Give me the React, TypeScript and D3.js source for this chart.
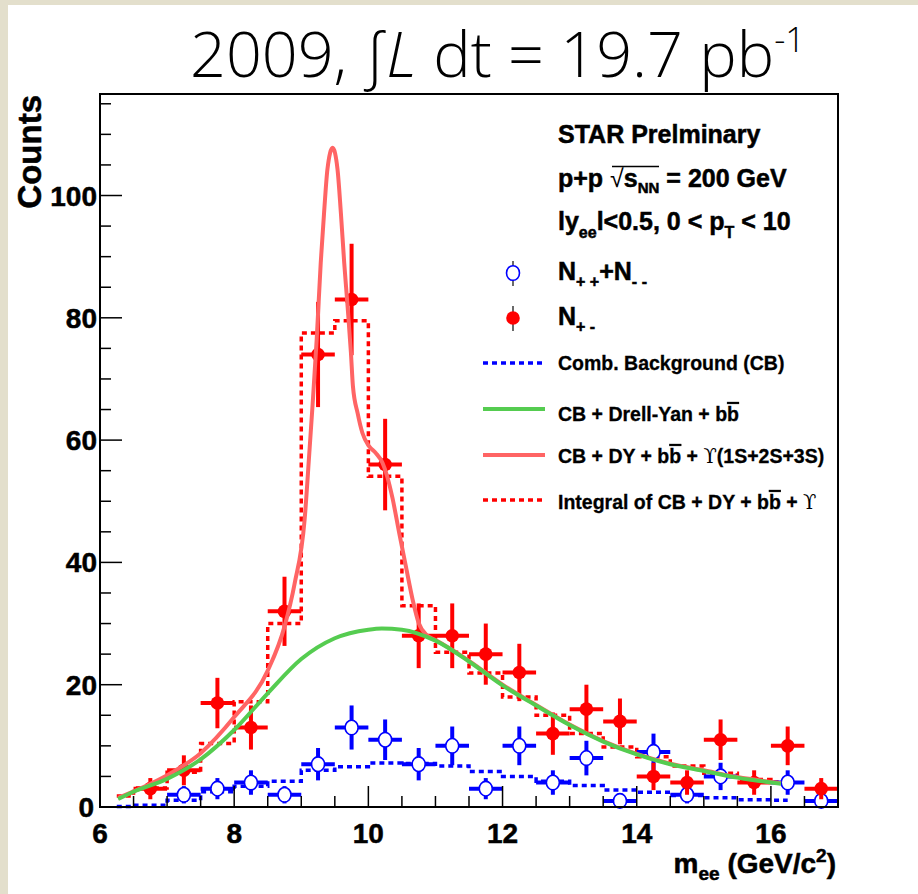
import React from "react";
import * as d3 from "d3";

// ---- data ----------------------------------------------------------------
// Bin centres of the invariant-mass histogram (GeV/c^2), bin width 0.5
const binCenters = [
  6.75, 7.25, 7.75, 8.25, 8.75, 9.25, 9.75, 10.25, 10.75, 11.25, 11.75,
  12.25, 12.75, 13.25, 13.75, 14.25, 14.75, 15.25, 15.75, 16.25, 16.75,
];
// Unlike-sign pairs N+-
const unlikeSign = [3, 6, 17, 13, 32, 74, 83, 56, 28, 28, 25, 22, 12, 16, 14, 5, 4, 11, 4, 10, 3];
// Like-sign pairs N++ + N-- (null = empty bin)
const likeSign = [null, 2, 3, 4, 2, 7, 13, 11, 7, 10, 3, 10, 4, 8, 1, 9, 2, 5, null, 4, 1];

// Step histograms: edges and contents
const stepEdges = [
  6.25, 6.5, 7.0, 7.5, 8.0, 8.5, 9.0, 9.5, 10.0, 10.5, 11.0, 11.5, 12.0,
  12.5, 13.0, 13.5, 14.0, 14.5, 15.0, 15.5, 16.0, 16.25,
];
const combBackground = [
  0.1, 0.3, 1.1, 2.5, 3.4, 4.2, 6.0, 6.6, 7.2, 7.1, 6.7, 5.8, 5.0, 4.2, 3.5,
  2.8, 2.4, 1.9, 1.5, 1.2, 1.1,
];
const integralAll = [
  1.8, 3.1, 5.7, 10.4, 17.2, 30.0, 77.5, 79.5, 54.1, 32.9, 25.3, 21.9, 18.0,
  15.0, 12.0, 9.8, 8.2, 6.7, 5.5, 4.5, 4.1,
];

// CB + Drell-Yan + bb curve
const dyMass = [6.27, 6.5, 7.0, 7.5, 8.0, 8.5, 9.0, 9.5, 10.0, 10.2, 10.5, 11.0, 11.5, 12.0, 12.5, 13.0, 13.5, 14.0, 14.5, 15.0, 15.5, 16.15];
const dyCounts = [1.3, 2.5, 4.6, 7.8, 12.6, 18.6, 24.2, 27.6, 29.0, 29.2, 29.0, 27.2, 23.8, 19.9, 16.6, 13.4, 10.7, 8.6, 7.0, 5.9, 4.8, 3.8];

// CB + DY + bb + Upsilon(1S+2S+3S) curve
const fullMass = [
  6.27, 7.0, 7.5, 8.0, 8.5, 8.75, 8.9, 9.05, 9.12, 9.17, 9.23, 9.29, 9.34,
  9.39, 9.467, 9.54, 9.59, 9.64, 9.69, 9.74, 9.77, 9.84, 9.91, 10.01, 10.11,
  10.21, 10.28, 10.36, 10.46, 10.56, 10.66, 10.75, 10.88, 11.0, 11.5, 12.0,
  12.5, 13.0, 13.5, 14.0, 14.5, 15.0, 15.5, 16.15,
];
const fullCounts = [
  1.5, 5.2, 8.8, 14.7, 22.3, 29.5, 36.5, 47.0, 57.9, 66.0, 76.5, 89.0, 97.2,
  104.3, 107.8, 104.3, 97.2, 89.0, 81.9, 74.3, 68.8, 64.4, 61.2, 59.0, 57.9,
  56.3, 54.1, 50.5, 44.8, 39.3, 33.9, 30.1, 28.0, 27.3, 23.9, 20.0, 16.7,
  13.5, 10.8, 8.7, 7.1, 6.0, 4.9, 3.9,
];

const xMajorTicks = [6, 8, 10, 12, 14, 16];
const yMajorTicks = [0, 20, 40, 60, 80, 100];

// ---- layout --------------------------------------------------------------
const W = 918;
const H = 894;
const frame = { left: 100, right: 838, top: 94, bottom: 807 };
const binHalf = 0.25;

const x = d3.scaleLinear().domain([6, 17]).range([frame.left, frame.right]);
const y = d3.scaleLinear().domain([0, 116.6]).range([frame.bottom, frame.top]);

const RED = "#ff0000";
const BLUE = "#0000ff";
const GREEN = "#55cc50";
const LIGHTRED = "#ff6464";
const FONT = "'Liberation Sans', Arial, Helvetica, sans-serif";

const stepLine = d3
  .line<[number, number]>()
  .x((d) => x(d[0]))
  .y((d) => y(d[1]))
  .curve(d3.curveStepAfter);

function stepPoints(values: number[]): [number, number][] {
  const pts: [number, number][] = values.map((v, i) => [stepEdges[i], v]);
  pts.push([stepEdges[stepEdges.length - 1], values[values.length - 1]]);
  return pts;
}

const smoothLine = d3
  .line<[number, number]>()
  .x((d) => x(d[0]))
  .y((d) => y(d[1]))
  .curve(d3.curveMonotoneX);

export default function App() {
  const xMinor = d3.range(6, 17.01, 0.5).filter((v) => !xMajorTicks.includes(v));
  const yMinor = d3.range(0, 116, 5).filter((v) => !yMajorTicks.includes(v));

  const dyPts: [number, number][] = dyMass.map((m, i) => [m, dyCounts[i]]);
  const fullPts: [number, number][] = fullMass.map((m, i) => [m, fullCounts[i]]);

  const legendLineX1 = 483;
  const legendLineX2 = 545;
  const legendTextX = 558;
  const heavy = { stroke: "#000", strokeWidth: 0.5 };

  return (
    <svg
      width={W}
      height={H}
      viewBox={`0 0 ${W} ${H}`}
      style={{ position: "absolute", left: 0, top: 0, display: "block" }}
      fontFamily={FONT}
    >
      {/* page background with beige border */}
      <rect x={0} y={0} width={W} height={H} fill="#e3dfcc" />
      <rect x={8} y={5} width={W - 8} height={H - 5} fill="#ffffff" />

      {/* title */}
      <text
        x={190}
        y={77}
        fontFamily="'Open Sans', Lato, sans-serif"
        fontWeight={300}
        fontSize={62}
        fill="#000"
        textLength={615}
        lengthAdjust="spacingAndGlyphs"
      >
        <tspan>2009, ∫</tspan>
        <tspan fontStyle="italic">L</tspan>
        <tspan> dt = 19.7 pb</tspan>
        <tspan fontSize={34} dy={-25}>-1</tspan>
      </text>

      {/* combinatorial background histogram */}
      <path
        d={stepLine(stepPoints(combBackground)) || ""}
        fill="none"
        stroke={BLUE}
        strokeWidth={3.5}
        strokeDasharray="5 4"
      />
      {/* integral of full fit histogram */}
      <path
        d={stepLine(stepPoints(integralAll)) || ""}
        fill="none"
        stroke={RED}
        strokeWidth={3.5}
        strokeDasharray="5 4"
      />

      {/* like-sign points */}
      {binCenters.map((m, i) => {
        const v = likeSign[i];
        if (v === null) return null;
        const e = Math.sqrt(v);
        return (
          <g key={`ls${i}`}>
            <line x1={x(m - binHalf)} x2={x(m + binHalf)} y1={y(v)} y2={y(v)} stroke={BLUE} strokeWidth={4} />
            <line x1={x(m)} x2={x(m)} y1={y(v - e)} y2={y(v + e)} stroke={BLUE} strokeWidth={4} />
            <ellipse cx={x(m)} cy={y(v)} rx={6.5} ry={7.3} fill="#fff" stroke={BLUE} strokeWidth={1.6} />
          </g>
        );
      })}

      {/* unlike-sign points */}
      {binCenters.map((m, i) => {
        const v = unlikeSign[i];
        const e = Math.sqrt(v);
        return (
          <g key={`us${i}`}>
            <line x1={x(m - binHalf)} x2={x(m + binHalf)} y1={y(v)} y2={y(v)} stroke={RED} strokeWidth={4} />
            <line x1={x(m)} x2={x(m)} y1={y(v - e)} y2={y(v + e)} stroke={RED} strokeWidth={4} />
            <circle cx={x(m)} cy={y(v)} r={6.8} fill={RED} />
          </g>
        );
      })}

      {/* fit curves */}
      <path d={smoothLine(fullPts) || ""} fill="none" stroke={LIGHTRED} strokeWidth={4} />
      <path d={smoothLine(dyPts) || ""} fill="none" stroke={GREEN} strokeWidth={4} />

      {/* frame */}
      <rect
        x={frame.left}
        y={frame.top}
        width={frame.right - frame.left}
        height={frame.bottom - frame.top}
        fill="none"
        stroke="#000"
        strokeWidth={2}
      />

      {/* y ticks */}
      {yMajorTicks.map((t) => (
        <line key={`ym${t}`} x1={frame.left} x2={frame.left + 22} y1={y(t)} y2={y(t)} stroke="#000" strokeWidth={1.5} />
      ))}
      {yMinor.map((t) => (
        <line key={`yn${t}`} x1={frame.left} x2={frame.left + 11} y1={y(t)} y2={y(t)} stroke="#000" strokeWidth={1.5} />
      ))}
      {/* x ticks */}
      {xMajorTicks.map((t) => (
        <line key={`xm${t}`} x1={x(t)} x2={x(t)} y1={frame.bottom} y2={frame.bottom - 21} stroke="#000" strokeWidth={1.5} />
      ))}
      {xMinor.map((t) => (
        <line key={`xn${t}`} x1={x(t)} x2={x(t)} y1={frame.bottom} y2={frame.bottom - 11} stroke="#000" strokeWidth={1.5} />
      ))}

      {/* tick labels */}
      {yMajorTicks.map((t) => (
        <text
          key={`yl${t}`}
          x={t === 0 ? 94 : 97}
          y={y(t) + 10}
          textAnchor="end"
          fontSize={28}
          fontWeight="bold"
          {...heavy}
        >
          {t}
        </text>
      ))}
      {xMajorTicks.map((t) => (
        <text key={`xl${t}`} x={x(t)} y={843} textAnchor="middle" fontSize={28} fontWeight="bold" {...heavy}>
          {t}
        </text>
      ))}

      {/* axis titles */}
      <text
        transform={`translate(41,95) rotate(-90)`}
        textAnchor="end"
        fontSize={33}
        fontWeight="bold"
        {...heavy}
      >
        Counts
      </text>
      <text x={836} y={873} textAnchor="end" fontSize={28} fontWeight="bold" {...heavy}>
        <tspan>m</tspan>
        <tspan fontSize={19} dy={7}>ee</tspan>
        <tspan dy={-7}> (GeV/c</tspan>
        <tspan fontSize={19} dy={-11}>2</tspan>
        <tspan dy={11}>)</tspan>
      </text>

      {/* legend */}
      <g fontWeight="bold" fill="#000">
        <text x={legendTextX} y={143} fontSize={25} {...heavy}>STAR Prelminary</text>
        <text x={legendTextX} y={187} fontSize={25} {...heavy}>
          <tspan>p+p </tspan>
          <tspan fontWeight="normal" strokeWidth={0}>√</tspan>
          <tspan>s</tspan>
          <tspan fontSize={15} dy={6}>NN</tspan>
          <tspan dy={-6}> = 200 GeV</tspan>
        </text>
        <line x1={612} x2={659} y1={166.5} y2={166.5} stroke="#000" strokeWidth={1.3} />
        <text x={legendTextX} y={230} fontSize={25} {...heavy}>
          <tspan>ly</tspan>
          <tspan fontSize={16} dy={8}>ee</tspan>
          <tspan dy={-8}>l&lt;0.5, 0 &lt; p</tspan>
          <tspan fontSize={16} dy={8}>T</tspan>
          <tspan dy={-8}> &lt; 10</tspan>
        </text>

        <line x1={513} x2={513} y1={261} y2={286} stroke="#444" strokeWidth={1.6} />
        <ellipse cx={513} cy={273} rx={6.5} ry={7.3} fill="#fff" stroke={BLUE} strokeWidth={1.6} />
        <text x={legendTextX} y={280} fontSize={25} {...heavy}>
          <tspan>N</tspan>
          <tspan fontSize={16} dy={7}>+ +</tspan>
          <tspan dy={-7}>+N</tspan>
          <tspan fontSize={16} dy={7}>- -</tspan>
        </text>

        <line x1={513} x2={513} y1={306} y2={331} stroke="#444" strokeWidth={1.6} />
        <circle cx={513} cy={318} r={6.8} fill={RED} />
        <text x={legendTextX} y={325} fontSize={25} {...heavy}>
          <tspan>N</tspan>
          <tspan fontSize={16} dy={7}>+ -</tspan>
        </text>

        <line x1={legendLineX1} x2={legendLineX2} y1={363} y2={363} stroke={BLUE} strokeWidth={3.5} strokeDasharray="5 4" />
        <text x={legendTextX} y={369.5} fontSize={19.5} {...heavy} strokeWidth={0.3}>Comb. Background (CB)</text>

        <line x1={legendLineX1} x2={legendLineX2} y1={409} y2={409} stroke={GREEN} strokeWidth={4} />
        <text x={legendTextX} y={421} fontSize={19.5} {...heavy} strokeWidth={0.3}>
          <tspan>CB + Drell-Yan + b</tspan>
          <tspan style={{ textDecoration: "overline" }}>b</tspan>
        </text>

        <line x1={legendLineX1} x2={legendLineX2} y1={455} y2={455} stroke={LIGHTRED} strokeWidth={4} />
        <text x={legendTextX} y={463} fontSize={19.5} {...heavy} strokeWidth={0.3}>
          <tspan>CB + DY + b</tspan>
          <tspan style={{ textDecoration: "overline" }}>b</tspan>
          <tspan> + </tspan>
          <tspan fontFamily="'DejaVu Serif', serif" fontWeight="normal" strokeWidth={0}>ϒ</tspan>
          <tspan>(1S+2S+3S)</tspan>
        </text>

        <line x1={legendLineX1} x2={legendLineX2} y1={500} y2={500} stroke={RED} strokeWidth={3.5} strokeDasharray="5 4" />
        <text x={legendTextX} y={509} fontSize={19.5} {...heavy} strokeWidth={0.3}>
          <tspan>Integral of CB + DY + b</tspan>
          <tspan style={{ textDecoration: "overline" }}>b</tspan>
          <tspan> + </tspan>
          <tspan fontFamily="'DejaVu Serif', serif" fontWeight="normal" strokeWidth={0}>ϒ</tspan>
        </text>
      </g>
    </svg>
  );
}
